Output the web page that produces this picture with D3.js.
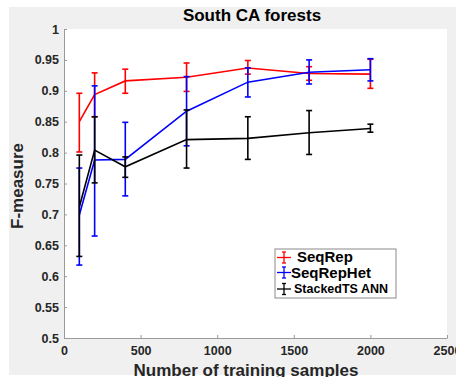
<!DOCTYPE html>
<html>
<head>
<meta charset="utf-8">
<script src="https://cdn.jsdelivr.net/npm/d3@7"></script>
<style>
  html, body { margin: 0; padding: 0; background: #ffffff; }
  svg { display: block; }
  text { font-family: "Liberation Sans", Arial, sans-serif; font-weight: bold; }
</style>
</head>
<body>
<svg id="chart" width="456" height="377"></svg>
<script>
// ---- data ----
const trainingSamples = [100, 200, 400, 800, 1200, 1600, 2000];

const seqRepMean = [0.850, 0.894, 0.916, 0.922, 0.937, 0.928, 0.927];
const seqRepLow  = [0.801, 0.858, 0.896, 0.899, 0.927, 0.917, 0.904];
const seqRepHigh = [0.896, 0.929, 0.935, 0.945, 0.949, 0.939, 0.951];

const seqRepHetMean = [0.699, 0.788, 0.789, 0.867, 0.914, 0.930, 0.934];
const seqRepHetLow  = [0.618, 0.665, 0.730, 0.811, 0.890, 0.911, 0.916];
const seqRepHetHigh = [0.775, 0.908, 0.849, 0.923, 0.937, 0.950, 0.952];

const stackedMean = [0.712, 0.804, 0.777, 0.821, 0.823, 0.832, 0.839];
const stackedLow  = [0.632, 0.751, 0.760, 0.775, 0.789, 0.797, 0.833];
const stackedHigh = [0.796, 0.858, 0.793, 0.869, 0.858, 0.868, 0.846];

const seriesNames  = ["SeqRep", "SeqRepHet", "StackedTS ANN"];
const seriesColors = ["#ff0000", "#0000ff", "#000000"];

const xTicks = [0, 500, 1000, 1500, 2000, 2500];
const yTicks = [0.5, 0.55, 0.6, 0.65, 0.7, 0.75, 0.8, 0.85, 0.9, 0.95, 1];

const titleText = "South CA forests";
const xLabelText = "Number of training samples";
const yLabelText = "F-measure";

// ---- build ----
const series = [
  { name: seriesNames[0], color: seriesColors[0], mean: seqRepMean, low: seqRepLow, high: seqRepHigh },
  { name: seriesNames[1], color: seriesColors[1], mean: seqRepHetMean, low: seqRepHetLow, high: seqRepHetHigh },
  { name: seriesNames[2], color: seriesColors[2], mean: stackedMean, low: stackedLow, high: stackedHigh }
];

const svg = d3.select("#chart");
const plot = { left: 64, right: 447, top: 29, bottom: 338 };

// figure background
svg.append("rect").attr("x", 9).attr("y", 7).attr("width", 447).attr("height", 368).attr("fill", "#f0f0f0");
// axes background
svg.append("rect").attr("x", plot.left).attr("y", plot.top)
  .attr("width", plot.right - plot.left).attr("height", plot.bottom - plot.top).attr("fill", "#ffffff");

const x = d3.scaleLinear().domain([0, 2500]).range([plot.left, plot.right]);
const y = d3.scaleLinear().domain([0.5, 1]).range([plot.bottom, plot.top]);

// axes
const axisColor = "#9a9a9a";
const textColor = "#262626";

const gx = svg.append("g").attr("transform", `translate(0,${plot.bottom})`)
  .call(d3.axisBottom(x).tickValues(xTicks).tickFormat(d3.format("d")).tickSizeInner(-3).tickSizeOuter(0).tickPadding(8.5));
const gy = svg.append("g").attr("transform", `translate(${plot.left},0)`)
  .call(d3.axisLeft(y).tickValues(yTicks).tickFormat(d => d3.format("")(d)).tickSizeInner(-3).tickSizeOuter(0).tickPadding(5));

[gx, gy].forEach(g => {
  g.select(".domain").attr("stroke", axisColor).attr("stroke-width", 1);
  g.selectAll(".tick line").attr("stroke", axisColor);
  g.selectAll(".tick text").attr("fill", textColor).style("font-size", "12.5px")
    .style("font-family", "'Liberation Sans', Arial, sans-serif").style("font-weight", "bold");
});

// series: lines then error bars
const line = d3.line().x((d, i) => x(trainingSamples[i])).y(d => y(d));
const capHalf = 3;

series.forEach(s => {
  const g = svg.append("g");
  g.append("path").datum(s.mean).attr("d", line)
    .attr("fill", "none").attr("stroke", s.color).attr("stroke-width", 1.6);
  const eb = g.selectAll(".eb").data(trainingSamples).join("g");
  eb.append("line")
    .attr("x1", d => x(d)).attr("x2", d => x(d))
    .attr("y1", (d, i) => y(s.low[i])).attr("y2", (d, i) => y(s.high[i]))
    .attr("stroke", s.color).attr("stroke-width", 1.6);
  eb.append("line")
    .attr("x1", d => x(d) - capHalf).attr("x2", d => x(d) + capHalf)
    .attr("y1", (d, i) => y(s.low[i])).attr("y2", (d, i) => y(s.low[i]))
    .attr("stroke", s.color).attr("stroke-width", 1.6);
  eb.append("line")
    .attr("x1", d => x(d) - capHalf).attr("x2", d => x(d) + capHalf)
    .attr("y1", (d, i) => y(s.high[i])).attr("y2", (d, i) => y(s.high[i]))
    .attr("stroke", s.color).attr("stroke-width", 1.6);
});

// title & labels
svg.append("text").attr("x", 252).attr("y", 21).attr("text-anchor", "middle")
  .style("font-size", "17px").attr("fill", "#000").text(titleText);
svg.append("text").attr("x", 246).attr("y", 376).attr("text-anchor", "middle")
  .style("font-size", "17px").attr("fill", textColor).text(xLabelText);
svg.append("text").attr("transform", "translate(23,186) rotate(-90)").attr("text-anchor", "middle")
  .style("font-size", "17px").attr("fill", textColor).text(yLabelText);

// legend
const legend = svg.append("g");
legend.append("rect").attr("x", 275).attr("y", 249).attr("width", 121).attr("height", 49)
  .attr("fill", "#ffffff").attr("stroke", "#8a8a8a").attr("stroke-width", 1);
const legendRows = [
  { cy: 257.5, ty: 262, tx: 297, size: "15px" },
  { cy: 272.5, ty: 278, tx: 291, size: "15px" },
  { cy: 289, ty: 293, tx: 294, size: "12.5px" }
];
series.forEach((s, i) => {
  const r = legendRows[i];
  const cx = 284;
  legend.append("line").attr("x1", cx - 7).attr("x2", cx + 7).attr("y1", r.cy).attr("y2", r.cy)
    .attr("stroke", s.color).attr("stroke-width", 1.3);
  legend.append("line").attr("x1", cx).attr("x2", cx).attr("y1", r.cy - 5.5).attr("y2", r.cy + 5.5)
    .attr("stroke", s.color).attr("stroke-width", 1.3);
  legend.append("line").attr("x1", cx - 2).attr("x2", cx + 2).attr("y1", r.cy - 5.5).attr("y2", r.cy - 5.5)
    .attr("stroke", s.color).attr("stroke-width", 1.3);
  legend.append("line").attr("x1", cx - 2).attr("x2", cx + 2).attr("y1", r.cy + 5.5).attr("y2", r.cy + 5.5)
    .attr("stroke", s.color).attr("stroke-width", 1.3);
  legend.append("text").attr("x", r.tx).attr("y", r.ty).style("font-size", r.size)
    .attr("fill", "#000").text(s.name);
});
</script>
</body>
</html>
